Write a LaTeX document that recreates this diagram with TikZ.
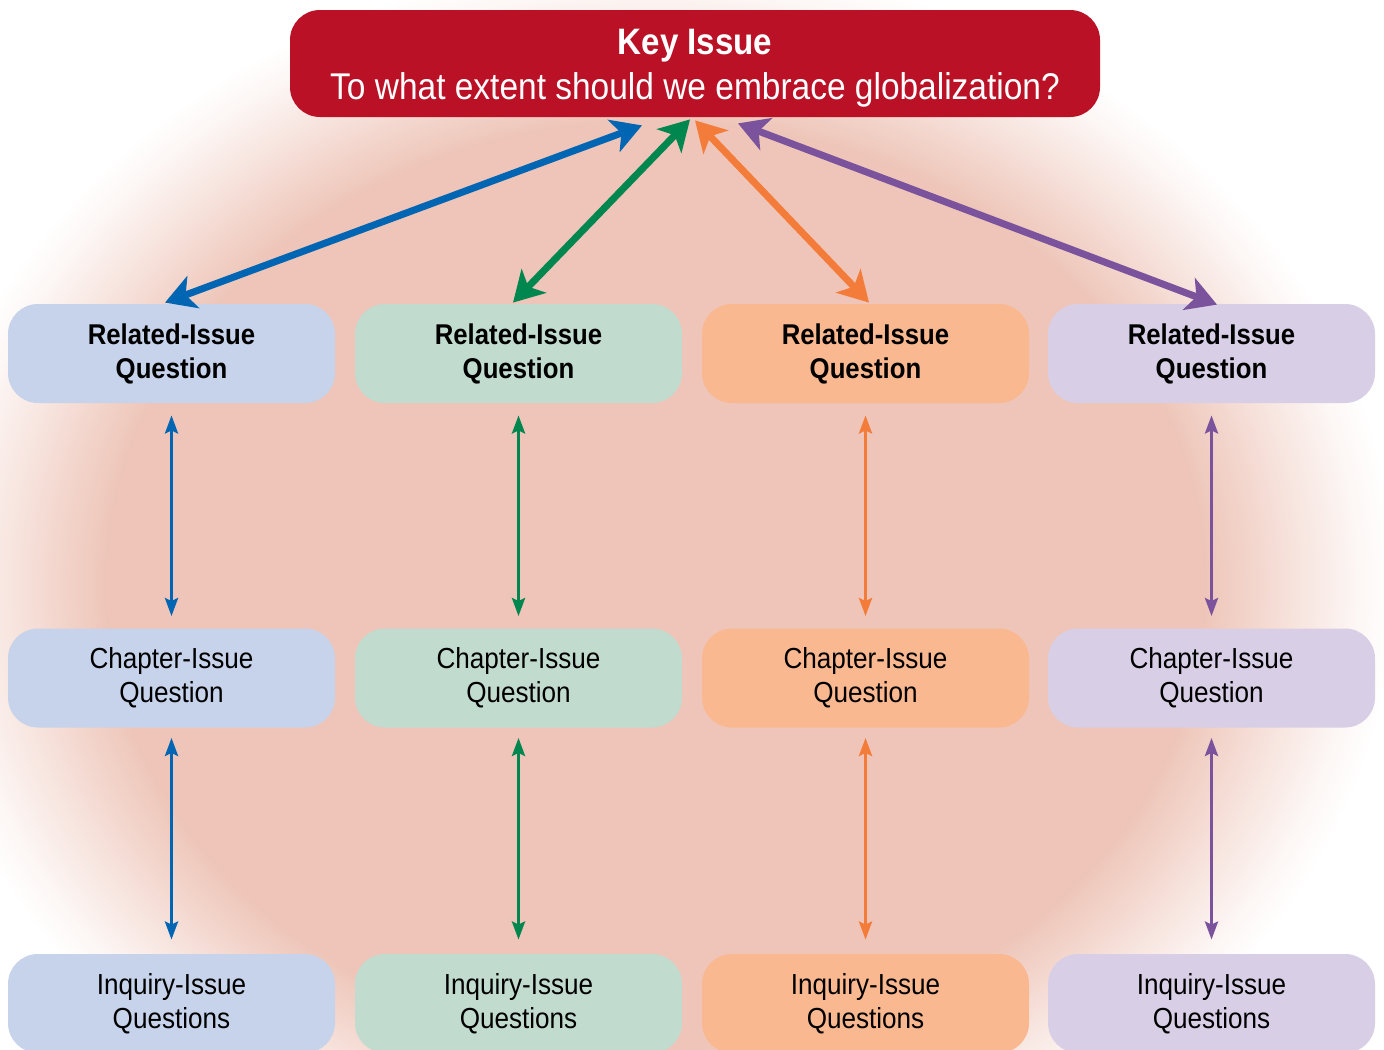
\documentclass[tikz,border=0pt]{standalone}
\usepackage{fontspec}
\newfontfamily\cond{Liberation Sans}[FakeStretch=0.9]
\usetikzlibrary{arrows.meta}
\definecolor{pinkc}{RGB}{238,197,184}
\colorlet{pinkm}{pinkc!50!white}
\colorlet{pinkl}{pinkc!14!white}
\definecolor{keyred}{RGB}{186,17,38}
\definecolor{bluebox}{RGB}{198,211,235}
\definecolor{greenbox}{RGB}{193,219,207}
\definecolor{orangebox}{RGB}{249,184,143}
\definecolor{purplebox}{RGB}{216,207,230}
\definecolor{bluearr}{RGB}{0,102,179}
\definecolor{greenarr}{RGB}{0,135,80}
\definecolor{orangearr}{RGB}{244,124,58}
\definecolor{purplearr}{RGB}{122,83,156}
\pgfdeclareradialshading{bgshade}{\pgfpointorigin}{color(0bp)=(pinkc); color(18.5bp)=(pinkc); color(21.5bp)=(pinkm); color(23.8bp)=(pinkl); color(25bp)=(white); color(50bp)=(white)}
\tikzset{
  qbox/.style={rounded corners=15pt, minimum width=163.5pt, minimum height=49.5pt, align=center, inner sep=0pt},
  relbox/.style={qbox, font=\cond\bfseries\fontsize{14.3}{17}\selectfont},
  chapbox/.style={qbox, font=\cond\fontsize{14.5}{17}\selectfont},
  keybox/.style={rounded corners=15pt, fill=keyred, text=white, minimum width=405pt, minimum height=53.5pt, align=center, inner sep=0pt},
  bigarrow/.style={line width=3.5pt, {Stealth[length=15pt,width=17pt,inset=4pt]}-{Stealth[length=15pt,width=17pt,inset=4pt]}},
  smallarrow/.style={line width=1.6pt, {Stealth[length=9pt,width=6.5pt,inset=1.5pt]}-{Stealth[length=9pt,width=6.5pt,inset=1.5pt]}}
}
\begin{document}
\begin{tikzpicture}[x=0.5pt,y=-0.5pt]
\useasboundingbox (0,0) rectangle (1384,1049);
\fill[white] (0,0) rectangle (1384,1049);
\path[shading=bgshade] (655,585) ellipse [x radius=740, y radius=625];

\node[keybox] (key) at (695,63.5) {{\bfseries\fontsize{18.4}{22}\selectfont\cond\rule{0pt}{17.2pt}Key Issue}\\[4pt]{\fontsize{18.6}{22}\selectfont\cond To what extent should we embrace globalization?}};

\foreach \i/\x/\c in {1/171.5/blue,2/518.5/green,3/865.5/orange,4/1211.5/purple}{
  \node[relbox, fill=\c box] (r\i) at (\x,353.5) {Related-Issue\\Question};
  \node[chapbox, fill=\c box] (c\i) at (\x,678) {Chapter-Issue\\Question};
  \node[chapbox, fill=\c box] (q\i) at (\x,1003.5) {Inquiry-Issue\\Questions};
  \draw[smallarrow, draw=\c arr, fill=\c arr] ([yshift=-6pt]r\i.south) -- ([yshift=6pt]c\i.north);
  \draw[smallarrow, draw=\c arr, fill=\c arr] ([yshift=-5pt]c\i.south) -- ([yshift=7pt]q\i.north);
}

\coordinate (kb1) at ([xshift=-26.5pt,yshift=-4pt]key.south);
\coordinate (kb2) at ([xshift=-2.5pt,yshift=-1pt]key.south);
\coordinate (kb3) at ([xshift=0pt,yshift=-1.5pt]key.south);
\coordinate (kb4) at ([xshift=21.5pt,yshift=-3pt]key.south);

\draw[bigarrow, draw=bluearr, fill=bluearr] ([xshift=-3.25pt,yshift=0.5pt]r1.north) -- (kb1);
\draw[bigarrow, draw=greenarr, fill=greenarr] ([xshift=-2.75pt,yshift=0.5pt]r2.north) -- (kb2);
\draw[bigarrow, draw=orangearr, fill=orangearr] (kb3) -- ([xshift=1.75pt,yshift=0.5pt]r3.north);
\draw[bigarrow, draw=purplearr, fill=purplearr] (kb4) -- ([xshift=2.75pt,yshift=-0.5pt]r4.north);
\end{tikzpicture}
\end{document}
